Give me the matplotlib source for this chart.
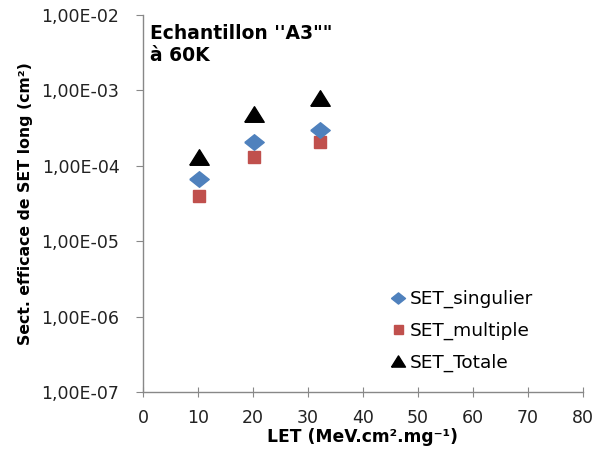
import matplotlib
matplotlib.use("Agg")
import matplotlib.pyplot as plt
from matplotlib.ticker import FixedLocator, NullLocator

plt.rcParams['font.family'] = ['DejaVu Sans']

let = [10.2, 20.2, 32.2]
singulier = [6.6e-5, 2.09e-4, 2.95e-4]
multiple = [4.0e-5, 1.31e-4, 2.03e-4]
totale = [1.32e-4, 4.8e-4, 8.0e-4]
series_names = ["SET_singulier", "SET_multiple", "SET_Totale"]
yticks = [1e-7, 1e-6, 1e-5, 1e-4, 1e-3, 1e-2]
ytick_labels = ["1,00E-07", "1,00E-06", "1,00E-05", "1,00E-04", "1,00E-03", "1,00E-02"]
xticks = [0, 10, 20, 30, 40, 50, 60, 70, 80]

diamond = [(-1, 0), (0, 0.8), (1, 0), (0, -0.8), (-1, 0)]
triangle = [(-1, -0.8), (1, -0.8), (0, 0.8), (-1, -0.8)]

fig = plt.figure(figsize=(5.96, 4.5), dpi=100)
ax = fig.add_axes([0.240, 0.129, 0.738, 0.838])

ax.plot(let, singulier, linestyle='none', marker=diamond, ms=14, color='#4F81BD',
        label=series_names[0], zorder=4)
ax.plot(let, multiple, linestyle='none', marker='s', ms=9, color='#C0504D',
        label=series_names[1], zorder=3)
ax.plot(let, totale, linestyle='none', marker=triangle, ms=14, color='black',
        label=series_names[2], zorder=3)

ax.set_yscale('log')
ax.set_ylim(1e-7, 1e-2)
ax.set_xlim(0, 80)
ax.yaxis.set_major_locator(FixedLocator(yticks))
ax.yaxis.set_minor_locator(NullLocator())
ax.set_yticklabels(ytick_labels)
ax.set_xticks(xticks)

for s in ['top', 'right']:
    ax.spines[s].set_visible(False)
for s in ['left', 'bottom']:
    ax.spines[s].set_color('#888888')
    ax.spines[s].set_linewidth(1.0)

ax.tick_params(axis='y', direction='out', length=5, color='#888888',
               labelsize=12.5, pad=12, labelcolor='#222222')
ax.tick_params(axis='x', direction='inout', length=7, color='#888888',
               labelsize=12.5, pad=9, labelcolor='#222222')

ax.set_xlabel("LET (MeV.cm².mg⁻¹)", fontsize=12.3, fontweight='bold', labelpad=0.5)
ax.set_ylabel("Sect. efficace de SET long (cm²)", fontsize=11.3, fontweight='bold')
ax.yaxis.set_label_coords(-0.25, 0.5)

ax.text(0.015, 0.975, 'Echantillon \'\'A3""\nà 60K', transform=ax.transAxes,
        fontsize=13.5, fontweight='bold', va='top', ha='left', linespacing=1.15)

leg = ax.legend(loc='lower right', bbox_to_anchor=(0.925, 0.01), frameon=False,
                fontsize=13.3, handletextpad=0.05, labelspacing=0.72, handlelength=1.2,
                markerscale=0.72)

fig.savefig("out.png", dpi=100)
